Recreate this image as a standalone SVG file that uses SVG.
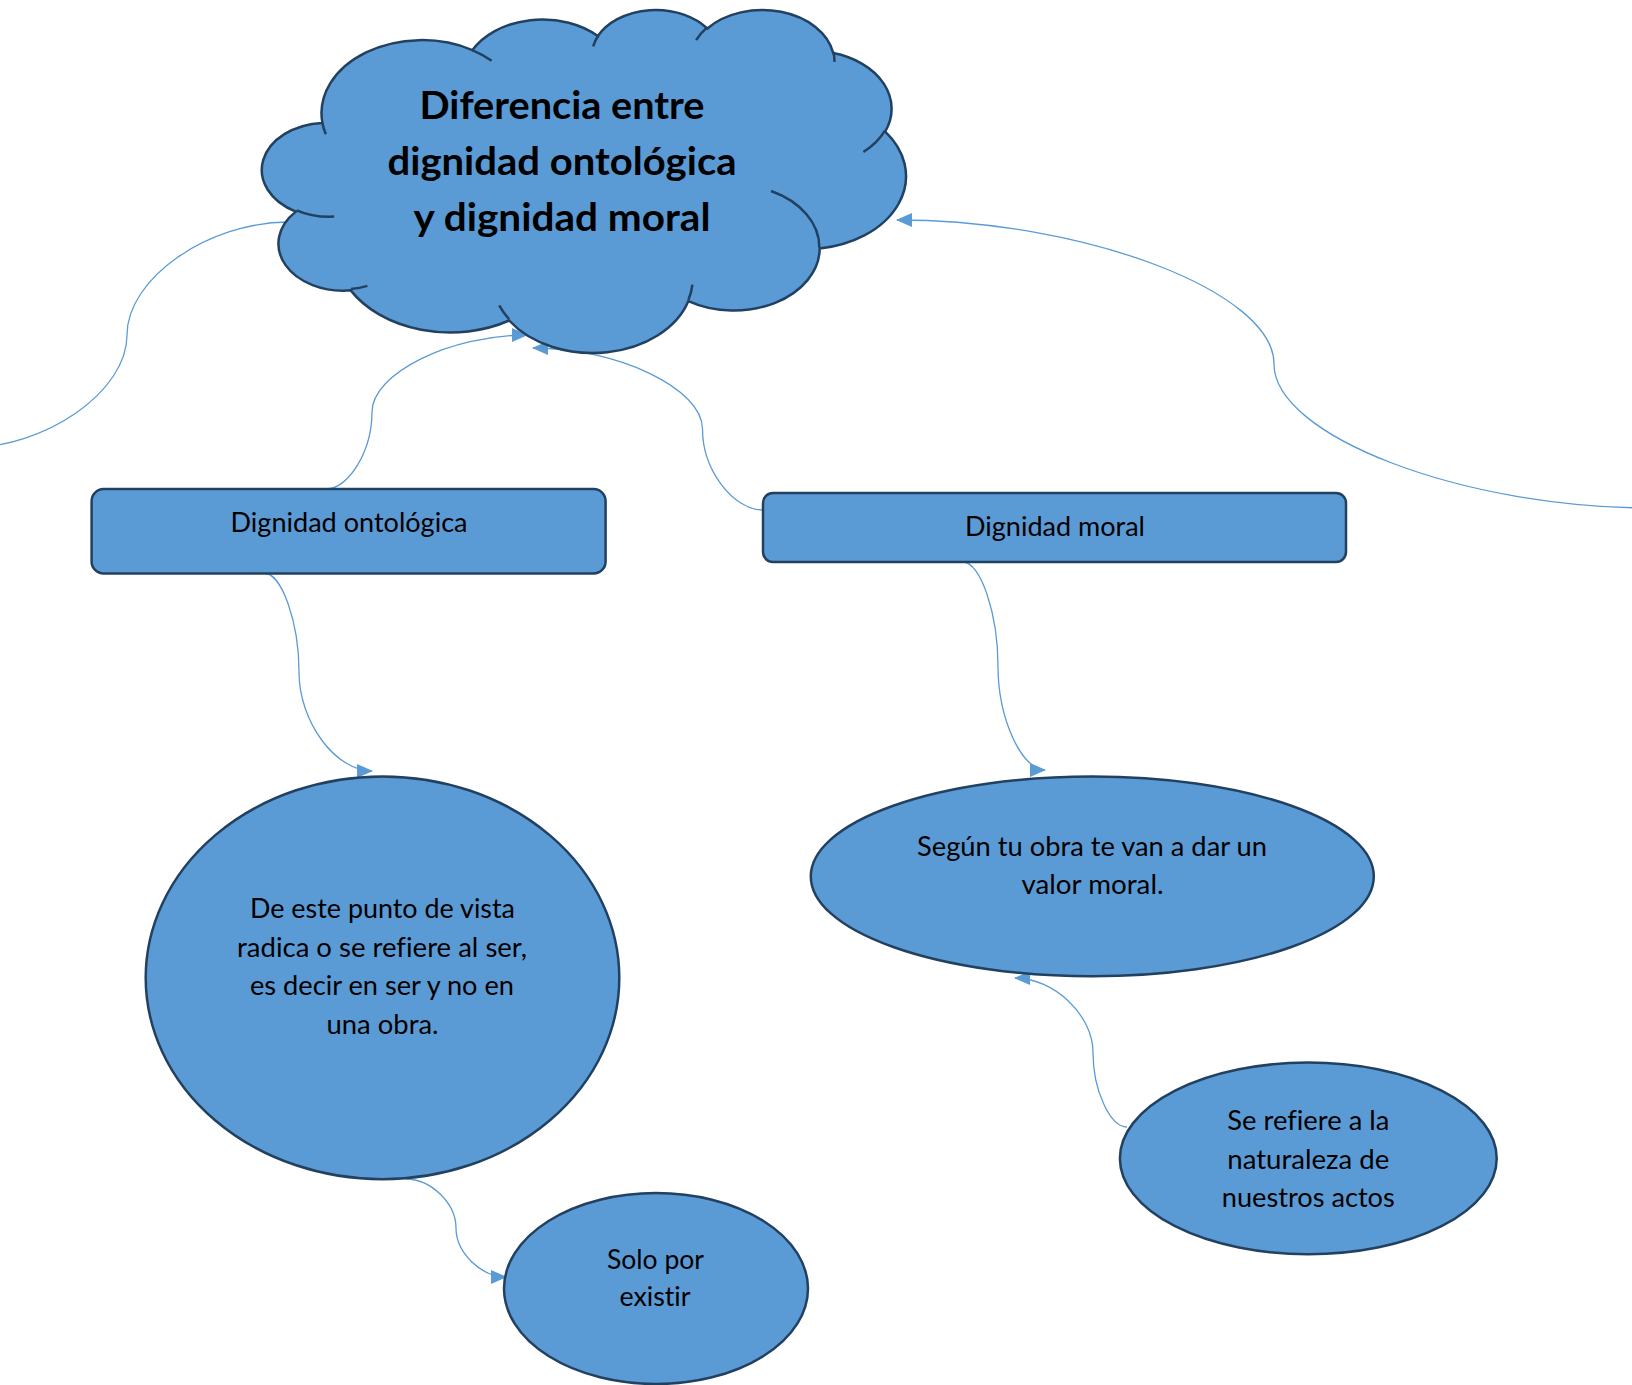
<svg xmlns="http://www.w3.org/2000/svg" width="1632" height="1385" viewBox="0 0 1632 1385">
<style>
.shape{fill:#5B9BD5;stroke:#22405F;stroke-width:2.5}
.wr{fill:none;stroke:#22405F;stroke-width:2.5}
.conn{fill:none;stroke:#5B9BD5;stroke-width:1.3}
.t{font-family:Lato,"Liberation Sans",sans-serif;font-size:27px;fill:#000;text-anchor:middle;font-variant-ligatures:none}
.tb{font-family:Lato,"Liberation Sans",sans-serif;font-size:39px;font-weight:bold;fill:#000;text-anchor:middle;font-variant-ligatures:none}
</style>
<defs>
<marker id="arr" viewBox="0 0 16 14" refX="15" refY="7" markerWidth="16" markerHeight="14" markerUnits="userSpaceOnUse" orient="auto">
<path d="M0,0 L16,7 L0,14 z" fill="#5B9BD5"/>
</marker>
</defs>
<rect width="1632" height="1385" fill="#fff"/>
<g id="connectors">
<path class="conn" d="M289 222 C208 222 127 278.5 127 335 C127 391.5 46 448 -35 448"/>
<path class="conn" d="M1651 508 C1462.5 508 1274 436 1274 364 C1274 292 1085.5 220 897 220" marker-end="url(#arr)"/>
<path class="conn" d="M326 489 C349 489 372 450.5 372 412 C372 373.5 449.5 335 527 335" marker-end="url(#arr)"/>
<path class="conn" d="M763 510 C732.75 510 702.5 469.5 702.5 429 C702.5 388.5 617.75 348 533 348" marker-end="url(#arr)"/>
<path class="conn" d="M264 573 C281.5 573 299 622 299 672 C299 722 335.5 771 372 771" marker-end="url(#arr)"/>
<path class="conn" d="M963 562 C980.5 562 998 614 998 666 C998 718 1021.5 770 1045 770" marker-end="url(#arr)"/>
<path class="conn" d="M1127 1127 C1110 1127 1093 1090 1093 1052.5 C1093 1015 1054 978 1015 978" marker-end="url(#arr)"/>
<path class="conn" d="M406 1179 C431 1179 456 1203.5 456 1228 C456 1252.5 481 1277 506 1277" marker-end="url(#arr)"/>
</g>
<g id="cloud">
<g transform="matrix(0.014842 0 0 0.0079384 264.55 8.81)">
<path class="shape" vector-effect="non-scaling-stroke" d="M3900 14370 A6753 9190 0 0 1 14004 5201 A5333 7267 0 0 1 22455 3433 A4365 5945 0 0 1 29832 2481 A4857 6595 0 0 1 38318 5576 A5333 7273 0 0 1 41818 15460 A6775 9220 0 0 1 37404 30203 A5785 7867 0 0 1 28556 36813 A6752 9215 0 0 1 16481 39265 A7720 10543 0 0 1 5805 35468 A4360 5918 0 0 1 2112 25548 A4345 5945 0 0 1 3900 14370 Z"/>
<path class="wr" vector-effect="non-scaling-stroke" d="M4693 26177 A4345 5945 0 0 1 2160 25380 M6928 34899 A4360 5918 0 0 1 5819 35281 M16478 39090 A6752 9215 0 0 1 15810 37350 M28827 34751 A6752 9215 0 0 1 28561 36659 M34129 22954 A5785 7867 0 0 1 37380 30090 M41798 15354 A5333 7273 0 0 1 40350 18031 M38324 5426 A4857 6595 0 0 1 38400 6689 M29078 3952 A4857 6595 0 0 1 29820 2340 M22141 4720 A4365 5945 0 0 1 22500 3331 M14000 5192 A6753 9190 0 0 1 15301 6542 M4127 15789 A6753 9190 0 0 1 3901 14372"/>
</g>
<text class="tb" x="562" y="118.5" textLength="285" lengthAdjust="spacingAndGlyphs">Diferencia entre</text>
<text class="tb" x="562" y="174.5" textLength="349" lengthAdjust="spacingAndGlyphs">dignidad ontológica</text>
<text class="tb" x="562" y="230.5" textLength="297" lengthAdjust="spacingAndGlyphs">y dignidad moral</text>
</g>
<g id="dignidad-ontologica">
<rect class="shape" x="91.6" y="489" width="514" height="84.5" rx="12"/>
<text class="t" x="349" y="532" textLength="237" lengthAdjust="spacingAndGlyphs">Dignidad ontológica</text>
</g>
<g id="dignidad-moral">
<rect class="shape" x="763" y="493" width="583" height="69" rx="10"/>
<text class="t" x="1055" y="536" textLength="180" lengthAdjust="spacingAndGlyphs">Dignidad moral</text>
</g>
<g id="ser">
<ellipse class="shape" cx="382.5" cy="977.8" rx="236.8" ry="201.4"/>
<text class="t" x="382.5" y="918" textLength="265" lengthAdjust="spacingAndGlyphs">De este punto de vista</text>
<text class="t" x="382" y="956.5" textLength="290" lengthAdjust="spacingAndGlyphs">radica o se refiere al ser,</text>
<text class="t" x="382" y="995" textLength="264" lengthAdjust="spacingAndGlyphs">es decir en ser y no en</text>
<text class="t" x="382.5" y="1033.5" textLength="112" lengthAdjust="spacingAndGlyphs">una obra.</text>
</g>
<g id="obra">
<ellipse class="shape" cx="1092.3" cy="876.4" rx="281.5" ry="99.9"/>
<text class="t" x="1092" y="855.5" textLength="350" lengthAdjust="spacingAndGlyphs">Según tu obra te van a dar un</text>
<text class="t" x="1092.5" y="894" textLength="142" lengthAdjust="spacingAndGlyphs">valor moral.</text>
</g>
<g id="existir">
<ellipse class="shape" cx="656" cy="1288.5" rx="152" ry="95.5"/>
<text class="t" x="655.5" y="1268.8" textLength="97" lengthAdjust="spacingAndGlyphs">Solo por</text>
<text class="t" x="655" y="1306.2" textLength="71" lengthAdjust="spacingAndGlyphs">existir</text>
</g>
<g id="actos">
<ellipse class="shape" cx="1308.3" cy="1158.4" rx="188.4" ry="95.8"/>
<text class="t" x="1308.3" y="1130.4" textLength="162" lengthAdjust="spacingAndGlyphs">Se refiere a la</text>
<text class="t" x="1308.3" y="1168.9" textLength="162" lengthAdjust="spacingAndGlyphs">naturaleza de</text>
<text class="t" x="1308.3" y="1207.4" textLength="173" lengthAdjust="spacingAndGlyphs">nuestros actos</text>
</g>
</svg>
